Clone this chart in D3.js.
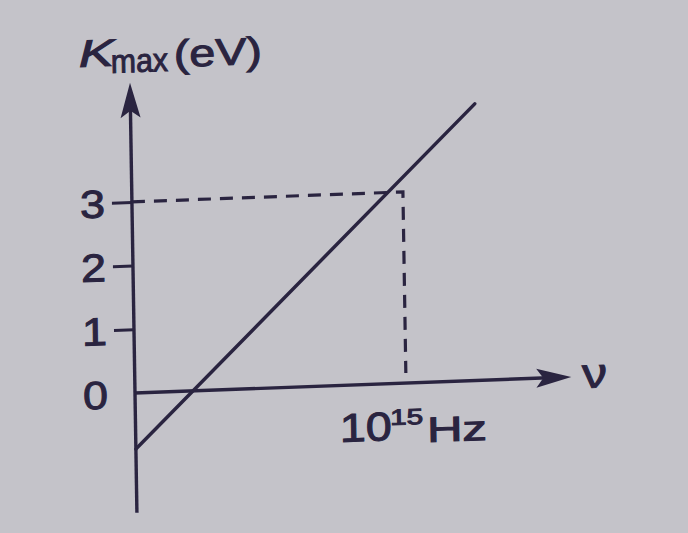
<!DOCTYPE html>
<html><head><meta charset="utf-8">
<script src="https://cdn.jsdelivr.net/npm/d3@7"></script>
<style>html,body{margin:0;padding:0;background:#c4c3c9;} svg{display:block;}</style>
</head><body><svg id="c" width="688" height="533"></svg>
<script>
// ---- data ----
const nuValues = [0, 1.27];          // frequency, ×10^15 Hz
const kValues = [-0.88, 4.34];       // K_max, eV
const yTickValues = [0, 1, 2, 3];
const markNu = [1];                  // 10^15 Hz
const markK = [3];                   // 3 eV
const xTickLabel = ["10", "15", "Hz"];
const yTitle = ["K", "max", "(eV)"];
const xTitle = "ν";

const ink = "#2a2440";
const FONT = "'Liberation Sans', Arial, sans-serif";
const svg = d3.select("#c");
svg.append("rect").attr("width", 688).attr("height", 533).attr("fill", "#c4c3c9");

// photo is slightly skewed: axes frame
const OX = 135, OY = 393, B = -0.0368, C = 0.0161;
const g = svg.append("g").attr("transform", `matrix(1,${B},${C},1,${OX},${OY})`);
function toLocal(sx, sy) {
  const rx = sx - OX, ry = sy - OY;
  const dx = rx - C * ry;
  return [dx, ry - B * dx];
}

const x = d3.scaleLinear().domain([0, 1]).range([0, 271]);
const y = d3.scaleLinear().domain([0, 1]).range([0, -63.7]);

// axes lines
g.append("line").attr("x1", 0).attr("x2", 0).attr("y1", y(-1.88)).attr("y2", y(4.55))
  .attr("stroke", ink).attr("stroke-width", 3.4);
g.append("line").attr("x1", x(0)).attr("x2", x(1.55)).attr("y1", 0).attr("y2", 0)
  .attr("stroke", ink).attr("stroke-width", 3.4);
// arrowheads
const yTip = y(4.87), xTip = x(1.61);
g.append("path").attr("d", `M0,${yTip} L10,${yTip + 35} L0,${yTip + 28} L-10,${yTip + 35} Z`).attr("fill", ink);
g.append("path").attr("d", `M${xTip},0 L${xTip - 35},-9.5 L${xTip - 28},0 L${xTip - 35},9.5 Z`).attr("fill", ink);

// y axis ticks
const ax = g.append("g").call(d3.axisLeft(y).tickValues(yTickValues).tickSize(20).tickPadding(7).tickFormat(d3.format("d")));
ax.select(".domain").remove();
ax.selectAll(".tick line").attr("stroke", ink).attr("stroke-width", 3)
  .filter(d => d === 0).remove();
ax.selectAll(".tick text")
  .attr("x", null).attr("dy", null)
  .attr("transform", "translate(-27,14) scale(1.15,1)")
  .attr("text-anchor", "end")
  .attr("fill", ink).attr("stroke", ink).attr("stroke-width", 1)
  .style("font-size", "39px").style("font-family", FONT);

// dashed guide
g.append("path")
  .attr("d", `M${x(0)},${y(markK[0])} H${x(markNu[0])} V${y(0) - 10}`)
  .attr("fill", "none").attr("stroke", ink).attr("stroke-width", 3.2)
  .attr("stroke-dasharray", "13,9");

// main line
const pts = nuValues.map((n, i) => [n, kValues[i]]);
g.append("path").datum(pts)
  .attr("d", d3.line().x(d => x(d[0])).y(d => y(d[1])))
  .attr("fill", "none").attr("stroke", ink).attr("stroke-width", 3.5).attr("stroke-linecap", "round");

// texts: [string, screen x, screen baseline, font-size, textLength]
function txt(s, sx, sy, fs, len, italic) {
  const [lx, ly] = toLocal(sx, sy);
  g.append("text").text(s).attr("x", lx).attr("y", ly)
    .attr("fill", ink).attr("stroke", ink).attr("stroke-width", 1)
    .style("font-family", FONT).style("font-size", fs + "px")
    .style("font-style", italic ? "italic" : "normal")
    .attr("textLength", len).attr("lengthAdjust", "spacingAndGlyphs");
}
txt(yTitle[0], 79, 67, 38, 35, true);
txt(yTitle[1], 111, 73, 33, 57);
txt(yTitle[2], 174, 67, 38, 88);
txt(xTickLabel[0], 340, 442, 40, 52);
txt(xTickLabel[1], 390, 425, 22, 33);
txt(xTickLabel[2], 427, 442, 35, 60);
txt(xTitle, 582, 388, 42, 25);
</script></body></html>
